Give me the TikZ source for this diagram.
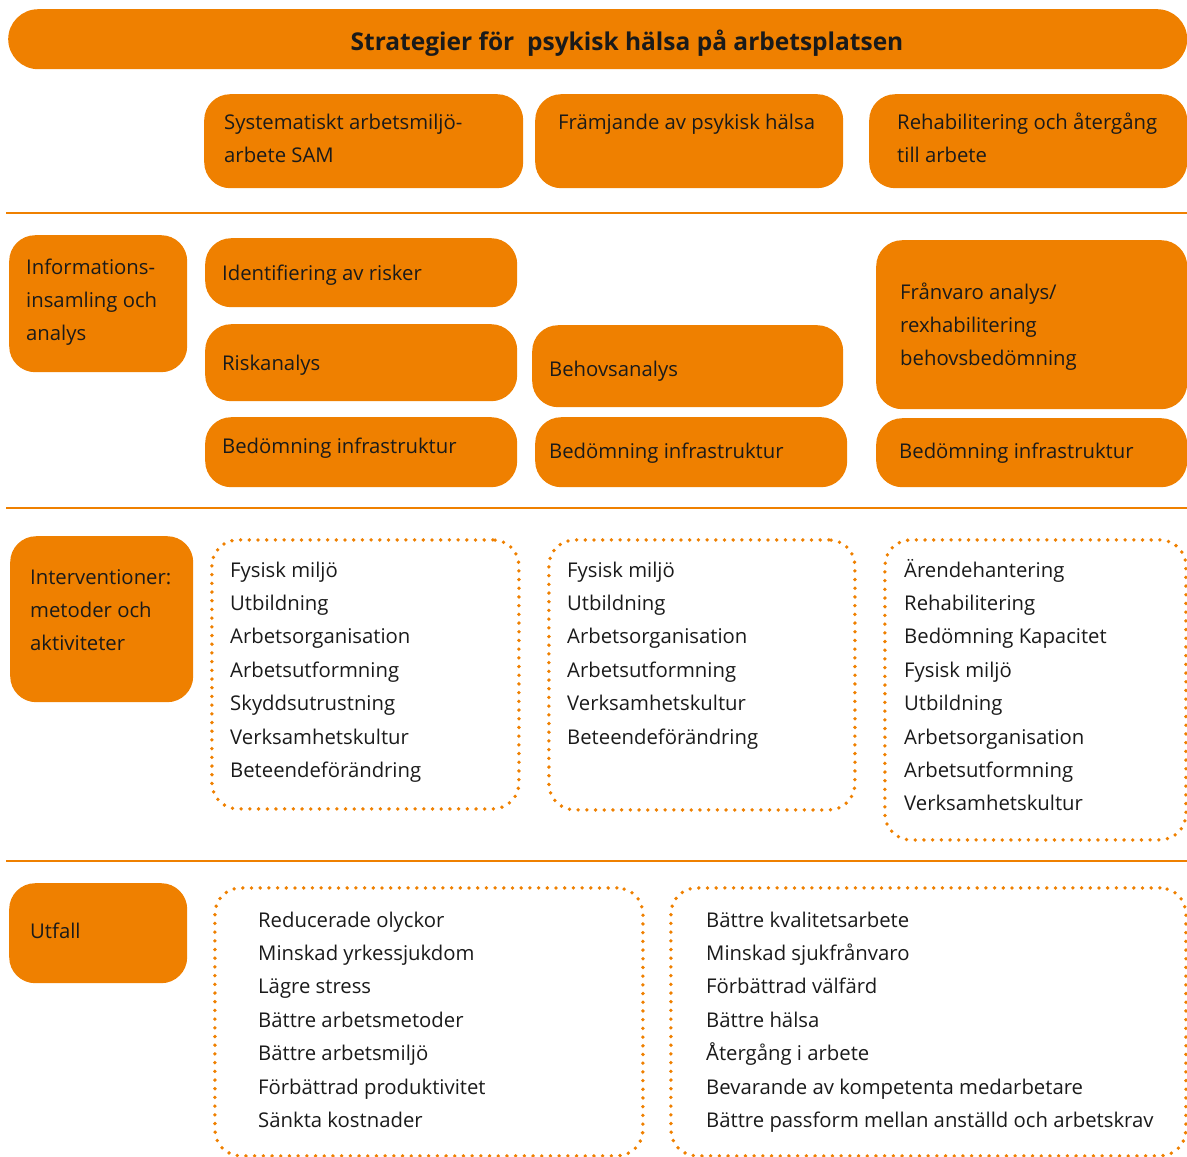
\documentclass[tikz,border=0pt]{standalone}
\usepackage{fontspec}
\setmainfont{Open Sans}
\definecolor{org}{HTML}{EF8000}
\definecolor{ink}{HTML}{1A1A1A}
\newcommand\mylines[1]{\begin{tabular}[t]{@{}l@{}}#1\end{tabular}}
\begin{document}
\begin{tikzpicture}[x=1pt,y=-1pt,
  obox/.style={fill=org, draw=none, rounded corners=26pt, inner sep=0pt, anchor=north west},
  dbox/.style={draw=org, line width=3.8pt, dash pattern=on 0pt off 8.7pt, line cap=round, rounded corners=26pt, inner sep=0pt, anchor=north west},
  txt/.style={font=\fontsize{20.3}{33.4}\selectfont, text=ink, inner sep=0pt, anchor=base west},
  sepline/.style={draw=org, line width=2pt}]
\useasboundingbox (0,0) rectangle (1187,1157);
% title
\node[obox, rounded corners=30pt, minimum width=1179pt, minimum height=60pt] (title) at (8,9) {};
\node[font=\fontsize{24.5}{28}\selectfont\bfseries, text=ink, inner sep=0pt, anchor=base] (titletext) at (627,50) {Strategier för\ \ psykisk hälsa på arbetsplatsen};
% row 1
\node[obox, minimum width=319pt, minimum height=94pt] (sam) at (204,94) {};
\node[txt] (samt) at (224,129) {\mylines{Systematiskt arbetsmiljö-\\arbete SAM}};
\node[obox, minimum width=308pt, minimum height=94pt] (fram) at (535,94) {};
\node[txt] (framt) at (558,129) {Främjande av psykisk hälsa};
\node[obox, minimum width=318pt, minimum height=94pt] (rehab) at (869,94) {};
\node[txt] (rehabt) at (897,129) {\mylines{Rehabilitering och återgång\\till arbete}};
\draw[sepline] (6,213) -- (1187,213);
% row 2
\node[obox, minimum width=178pt, minimum height=137pt] (info) at (9,235) {};
\node[txt] (infot) at (26,274) {\mylines{Informations-\\insamling och\\analys}};
\node[obox, minimum width=312pt, minimum height=69pt] (ident) at (205,238) {};
\node[txt] (identt) at (222,280) {Identifiering av risker};
\node[obox, minimum width=312pt, minimum height=77pt] (risk) at (205,324) {};
\node[txt] (riskt) at (222,370) {Riskanalys};
\node[obox, minimum width=312pt, minimum height=70pt] (bedA) at (205,417) {};
\node[txt] (bedAt) at (222,453) {Bedömning infrastruktur};
\node[obox, minimum width=311pt, minimum height=82pt] (behov) at (532,325) {};
\node[txt] (behovt) at (549,376) {Behovsanalys};
\node[obox, minimum width=312pt, minimum height=70pt] (bedB) at (535,417) {};
\node[txt] (bedBt) at (549,458) {Bedömning infrastruktur};
\node[obox, minimum width=311pt, minimum height=169pt] (franv) at (876,240) {};
\node[txt] (franvt) at (900,299) {\mylines{Frånvaro analys/\\rexhabilitering\\behovsbedömning}};
\node[obox, minimum width=311pt, minimum height=69pt] (bedC) at (876,418) {};
\node[txt] (bedCt) at (899,458) {Bedömning infrastruktur};
\draw[sepline] (6,508) -- (1187,508);
% row 3
\node[obox, minimum width=183pt, minimum height=166pt] (interv) at (10,536) {};
\node[txt] (intervt) at (30,584) {\mylines{Interventioner:\\metoder och\\aktiviteter}};
\node[dbox, minimum width=307pt, minimum height=269pt] (dA) at (210,538) {};
\node[txt] (dAt) at (230,577) {\mylines{Fysisk miljö\\Utbildning\\Arbetsorganisation\\Arbetsutformning\\Skyddsutrustning\\Verksamhetskultur\\Beteendeförändring}};
\node[dbox, minimum width=306pt, minimum height=270pt] (dB) at (547,538) {};
\node[txt] (dBt) at (567,577) {\mylines{Fysisk miljö\\Utbildning\\Arbetsorganisation\\Arbetsutformning\\Verksamhetskultur\\Beteendeförändring}};
\node[dbox, minimum width=301pt, minimum height=300pt] (dC) at (883,538) {};
\node[txt] (dCt) at (904,577) {\mylines{Ärendehantering\\Rehabilitering\\Bedömning Kapacitet\\Fysisk miljö\\Utbildning\\Arbetsorganisation\\Arbetsutformning\\Verksamhetskultur}};
\draw[sepline] (6,861) -- (1187,861);
% row 4
\node[obox, minimum width=178pt, minimum height=100pt] (utfall) at (9,883) {};
\node[txt] (utfallt) at (30,938) {Utfall};
\node[dbox, minimum width=428pt, minimum height=268pt] (dD) at (213,886) {};
\node[txt] (dDt) at (258,927) {\mylines{Reducerade olyckor\\Minskad yrkessjukdom\\Lägre stress\\Bättre arbetsmetoder\\Bättre arbetsmiljö\\Förbättrad produktivitet\\Sänkta kostnader}};
\node[dbox, minimum width=515pt, minimum height=268pt] (dE) at (669,886) {};
\node[txt] (dEt) at (706,927) {\mylines{Bättre kvalitetsarbete\\Minskad sjukfrånvaro\\Förbättrad välfärd\\Bättre hälsa\\Återgång i arbete\\Bevarande av kompetenta medarbetare\\Bättre passform mellan anställd och arbetskrav}};
\end{tikzpicture}
\end{document}
